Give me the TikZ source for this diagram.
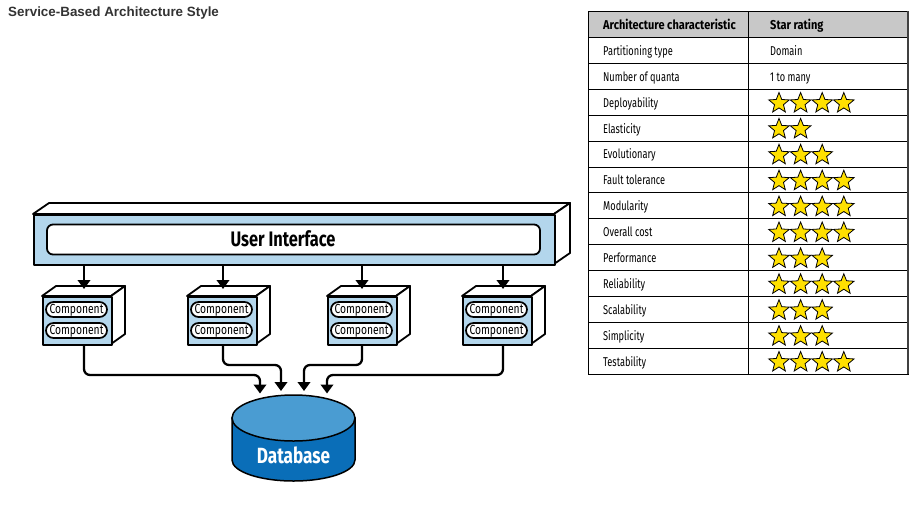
\documentclass[tikz,border=0pt]{standalone}
\usepackage{fontspec}
\setmainfont{Liberation Sans}
\newfontfamily\cf[FakeStretch=0.78]{Fira Sans}
\newfontfamily\cfn[FakeStretch=0.72]{Fira Sans}
\newfontfamily\cfh[FakeStretch=0.86]{Fira Sans}
\usetikzlibrary{shapes.geometric,arrows.meta}
\definecolor{lb}{RGB}{179,214,236}
\definecolor{dbtop}{RGB}{74,156,210}
\definecolor{dbbody}{RGB}{10,110,184}
\definecolor{hdr}{RGB}{200,200,200}
\definecolor{stary}{RGB}{255,224,0}
\definecolor{ttl}{RGB}{51,51,51}
\begin{document}
\begin{tikzpicture}[x=1pt,y=-1pt,
  face/.style={draw=black, line width=1.8pt, line join=round},
  pill/.style={draw=black, line width=1.7pt, fill=white, rounded corners=7.5pt, minimum width=61pt, minimum height=15pt, inner sep=0pt, text height=9.2pt, text depth=1.2pt, font=\cf\fontsize{13.2}{14}\selectfont},
  arr/.style={line width=2.3pt, -{Triangle[width=12.5pt,length=9pt]}, rounded corners=6pt},
  tline/.style={draw=black, line width=0.9pt},
  cell/.style={anchor=west, inner sep=0pt, font=\cfn\fontsize{12.8}{14}\selectfont, text height=11pt, text depth=1.2pt},
  hcell/.style={cell, font=\cfh\bfseries\fontsize{12.8}{14}\selectfont},
  starnode/.style={star, star points=5, star point ratio=2.3, minimum size=21.5pt, inner sep=0pt, draw=black, line width=0.8pt, fill=stary},
]
\useasboundingbox[fill=white] (0,0) rectangle (919,515);

% title
\node[anchor=west, inner sep=0pt, font=\bfseries\fontsize{13.4}{16}\selectfont, text=ttl] (title) at (8,13) {Service-Based Architecture Style};

% user interface slab
\draw[face, fill=white] (33,214) -- (49,203) -- (570,203) -- (554,214) -- cycle;
\draw[face, fill=white] (554,214) -- (570,203) -- (570,253) -- (554,264) -- cycle;
\node[face, fill=lb, anchor=north west, minimum width=521pt, minimum height=50pt, inner sep=0pt] (ui) at (33,214) {};
\node[draw=black, line width=1.8pt, fill=white, rounded corners=6pt, minimum width=493pt, minimum height=30pt, inner sep=0pt] (uiin) at (293.5,239.5) {};
\node[inner sep=0pt, font=\cf\bfseries\fontsize{21}{24}\selectfont] (uitext) at (283,239) {User Interface};

% component boxes
\foreach \X/\n in {42/1,187/2,327/3,462/4}{
  \draw[face, fill=white] (\X,296) -- (\X+14,286) -- (\X+83,286) -- (\X+69,296) -- cycle;
  \draw[face, fill=white] (\X+69,296) -- (\X+83,286) -- (\X+83,334) -- (\X+69,344) -- cycle;
  \node[face, fill=lb, anchor=north west, minimum width=69pt, minimum height=48pt, inner sep=0pt] (c\n) at (\X,296) {};
  \node[pill] (p\n a) at (\X+34.5,309.5) {Component};
  \node[pill] (p\n b) at (\X+34.5,330.5) {Component};
}

% arrows from UI to boxes
\coordinate (t1) at (84,289);
\coordinate (t2) at (223,289);
\coordinate (t3) at (362,289);
\coordinate (t4) at (503,289);
\foreach \n in {1,...,4}{
  \draw[arr] (ui.south -| t\n) -- (t\n);
}

% database
\draw[line width=1.5pt, fill=dbbody] (232,418) -- (232,460) arc[start angle=180, end angle=360, x radius=61.5pt, y radius=21pt] -- (355,418) -- cycle;
\draw[line width=1.5pt, fill=dbtop] (293.5,418) ellipse [x radius=61.5pt, y radius=23pt];
\node[inner sep=0pt, text=white, font=\cf\bfseries\fontsize{22}{24}\selectfont] (db) at (293.5,455) {Database};

% arrows from boxes to database
\coordinate (d1) at (260,393.5);
\coordinate (d2) at (281,391);
\coordinate (d3) at (304,391);
\coordinate (d4) at (327,393.5);
\coordinate (k1) at (260,375);
\coordinate (k2) at (281,365);
\coordinate (k3) at (304,365);
\coordinate (k4) at (327,375);
\foreach \n in {1,...,4}{
  \draw[arr] (c\n.south -| t\n) |- (k\n) -- (d\n);
}

% table
\fill[hdr] (588,11) rectangle (908,37.5);
\foreach \i in {0,...,12}{
  \draw[tline] (588,{37.5+25.9*\i}) -- (908,{37.5+25.9*\i});
}
\draw[tline] (588,11) rectangle (908,374.2);
\draw[tline] (748,11) -- (748,374.2);
\draw[line width=1.4pt, draw=black!75] (908,11) -- (908,374.2);

\node[hcell] (h1) at (603,24.5) {Architecture characteristic};
\node[hcell] (h2) at (770,24.5) {Star rating};
\foreach \t [count=\i from 0] in {Partitioning type, Number of quanta, Deployability, Elasticity, Evolutionary, Fault tolerance, Modularity, Overall cost, Performance, Reliability, Scalability, Simplicity, Testability}{
  \node[cell] (r\i) at (603,{37.5+25.9*(\i+0.5)}) {\t};
}
\node[cell] (v0) at (770,{37.5+25.9*0.5}) {Domain};
\node[cell] (v1) at (770,{37.5+25.9*1.5}) {1 to many};
\foreach \m [count=\i from 2] in {4,2,3,4,4,4,3,4,3,3,4}{
  \foreach \k in {1,...,\m}{
    \node[starnode] (s\i-\k) at ({779+21.6*(\k-1)},{37.5+25.9*(\i+0.5)+1}) {};
  }
}
\end{tikzpicture}
\end{document}
